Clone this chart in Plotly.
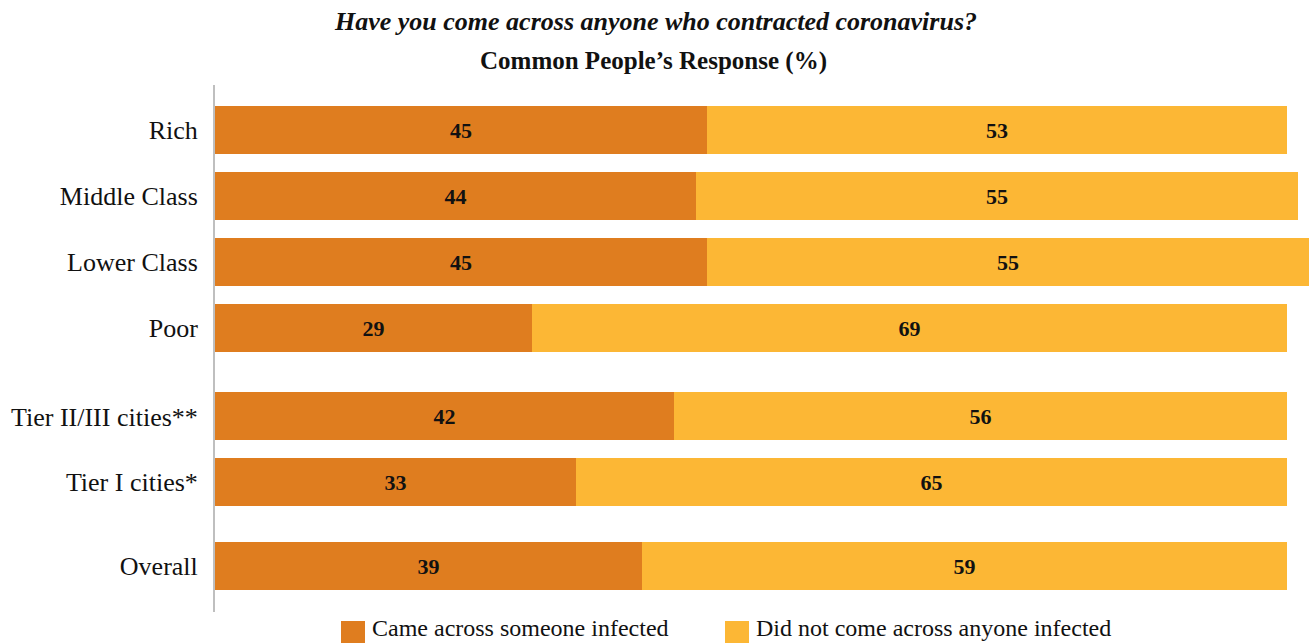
import plotly.graph_objects as go

# Survey groups, top to bottom
categories = ["Rich", "Middle Class", "Lower Class", "Poor",
              "Tier II/III cities**", "Tier I cities*", "Overall"]
came_across = [45, 44, 45, 29, 42, 33, 39]
did_not = [53, 55, 55, 69, 56, 65, 59]
series_names = ["Came across someone infected",
                "Did not come across anyone infected"]

title_text = "Have you come across anyone who contracted coronavirus?"
subtitle_text = "Common People\u2019s Response (%)"

# Layout: row positions (groups separated by extra spacing)
row_pos = [0, 1, 2, 3, 4.34, 5.33, 6.6]
colors = ["#DF7D1F", "#FCB735"]
FONT = "Liberation Serif"

W, H = 1309, 643
L, R, T, B = 215, 0, 85, 31
plot_w = W - L - R
plot_h = H - T - B


def px_x(px):
    return (px - L) / plot_w


def px_y(py):
    return (H - B - py) / plot_h


fig = go.Figure()
for vals, name, col in zip([came_across, did_not], series_names, colors):
    fig.add_trace(go.Bar(
        y=row_pos, x=vals, name=name, orientation="h",
        marker=dict(color=col, line=dict(width=0)),
        width=0.727,
        text=vals, texttemplate="<b>%{text}</b>",
        textposition="inside", insidetextanchor="middle",
        textfont=dict(family=FONT, size=22, color="#111111"),
        showlegend=False, hoverinfo="skip",
    ))

# Legend drawn as large swatches with labels
legend_x = [341, 725]
annotations = []
shapes = []
for lx, name, col in zip(legend_x, series_names, colors):
    shapes.append(dict(type="rect", xref="paper", yref="paper",
                       x0=px_x(lx), x1=px_x(lx + 24),
                       y0=px_y(621), y1=px_y(646),
                       fillcolor=col, line=dict(width=0)))
    annotations.append(dict(xref="paper", yref="paper",
                            x=px_x(lx + 29), y=px_y(628),
                            xanchor="left", yanchor="middle",
                            text=name, showarrow=False,
                            font=dict(family=FONT, size=24, color="#111111")))

annotations.append(dict(xref="paper", yref="paper",
                        x=px_x(655), y=px_y(22),
                        xanchor="center", yanchor="middle",
                        text="<b><i>" + title_text + "</i></b>",
                        showarrow=False,
                        font=dict(family=FONT, size=26, color="#111111")))
annotations.append(dict(xref="paper", yref="paper",
                        x=px_x(653), y=px_y(61),
                        xanchor="center", yanchor="middle",
                        text="<b>" + subtitle_text + "</b>",
                        showarrow=False,
                        font=dict(family=FONT, size=25, color="#111111")))

fig.update_layout(
    width=W, height=H,
    margin=dict(l=L, r=R, t=T, b=B, pad=0),
    barmode="stack",
    bargap=0,
    plot_bgcolor="white", paper_bgcolor="white",
    shapes=shapes, annotations=annotations,
    uniformtext=dict(mode=False),
)
fig.update_xaxes(range=[0, 100], visible=False, fixedrange=True)
fig.update_yaxes(
    range=[(612 - 130) / 66, (85 - 130) / 66],
    tickvals=row_pos, ticktext=categories,
    showgrid=False, zeroline=False,
    showline=True, linecolor="#BFBFBF", linewidth=2,
    ticks="", ticklabelstandoff=10,
    tickfont=dict(family=FONT, size=26, color="#111111"),
    fixedrange=True,
)

fig.write_html("out.html", config={"displayModeBar": False})
